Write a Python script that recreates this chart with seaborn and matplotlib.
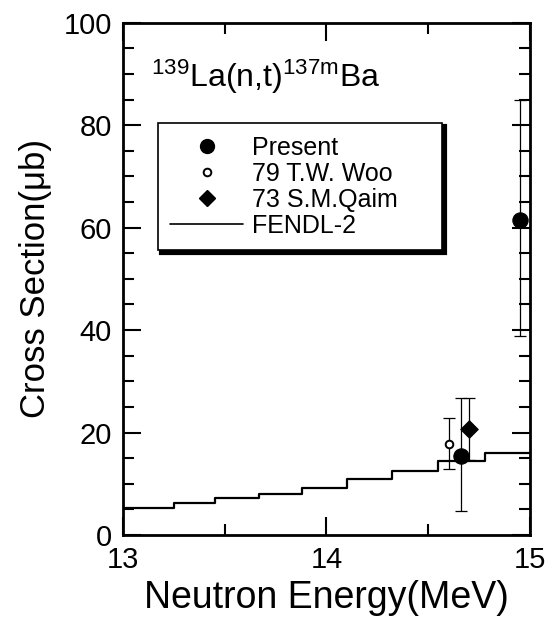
import matplotlib
matplotlib.use("Agg")
import matplotlib.pyplot as plt
import seaborn as sns
import pandas as pd
from matplotlib.lines import Line2D
from matplotlib.ticker import MultipleLocator

# ---- data ----
fendl_edges = [13.0, 13.25, 13.45, 13.67, 13.88, 14.10, 14.32, 14.55, 14.78, 15.0]
fendl_vals = [5.2, 6.2, 7.2, 8.0, 9.1, 10.9, 12.5, 14.4, 16.1]

present_e = [14.66, 14.95]
present_xs = [15.4, 61.5]
present_err_lo = [10.7, 22.7]
present_err_hi = [11.4, 23.4]

woo_e = [14.60]
woo_xs = [17.8]
woo_err = [5.0]

qaim_e = [14.70]
qaim_xs = [20.7]
qaim_err = [6.1]

legend_labels = ["Present", "79 T.W. Woo", "73 S.M.Qaim", "FENDL-2"]

sns.set_style("ticks")
plt.rcParams['font.family'] = ['Liberation Sans', 'DejaVu Sans']
plt.rcParams['mathtext.fontset'] = 'custom'
plt.rcParams['mathtext.rm'] = 'Liberation Sans'
plt.rcParams['mathtext.it'] = 'Liberation Sans'
plt.rcParams['text.color'] = 'black'
plt.rcParams['axes.labelcolor'] = 'black'

fig = plt.figure(figsize=(5.58, 6.31), dpi=100)
ax = fig.add_axes([0.2204, 0.1521, 0.7294, 0.8119])

# FENDL step line
fendl_df = pd.DataFrame({"E": fendl_edges, "xs": fendl_vals + [fendl_vals[-1]]})
sns.lineplot(data=fendl_df, x="E", y="xs", drawstyle="steps-post", color="black",
             lw=1.6, estimator=None, ax=ax, zorder=2)

# error bars
ax.errorbar(present_e, present_xs, yerr=[present_err_lo, present_err_hi], fmt="none",
            ecolor="black", elinewidth=0.9, capsize=4, capthick=0.9, zorder=3)
ax.errorbar(woo_e, woo_xs, yerr=woo_err, fmt="none",
            ecolor="black", elinewidth=0.9, capsize=4, capthick=0.9, zorder=3)
ax.errorbar(qaim_e, qaim_xs, yerr=qaim_err, fmt="none",
            ecolor="black", elinewidth=0.9, capsize=4, capthick=0.9, zorder=3)

# markers
sns.scatterplot(x=present_e, y=present_xs, marker="o", s=120, color="black",
                edgecolor="black", ax=ax, zorder=4)
sns.scatterplot(x=woo_e, y=woo_xs, marker="o", s=30, facecolor="white",
                edgecolor="black", linewidth=1.4, ax=ax, zorder=4)
sns.scatterplot(x=qaim_e, y=qaim_xs, marker="D", s=80, color="black",
                edgecolor="black", ax=ax, zorder=4)

ax.set_xlim(13, 15)
ax.set_ylim(0, 100)
ax.xaxis.set_major_locator(MultipleLocator(1))
ax.xaxis.set_minor_locator(MultipleLocator(0.5))
ax.yaxis.set_major_locator(MultipleLocator(20))
ax.yaxis.set_minor_locator(MultipleLocator(5))
ax.tick_params(which="both", direction="in", top=True, right=True, width=1.5,
               colors="black")
ax.tick_params(which="major", length=13, labelsize=21, pad=8)
ax.tick_params(which="minor", length=8)
for s in ax.spines.values():
    s.set_linewidth(2)
    s.set_color("black")

ax.set_xlabel("Neutron Energy(MeV)", fontsize=27, labelpad=4)
ax.set_ylabel("Cross Section(\u03bcb)", fontsize=25, labelpad=8)

ax.text(0.07, 0.895, r"$^{139}$La(n,t)$^{137m}$Ba", transform=ax.transAxes,
        fontsize=23, ha="left", va="center")

handles = [
    Line2D([], [], marker="o", ls="none", color="black", markersize=10),
    Line2D([], [], marker="o", ls="none", markerfacecolor="white",
           markeredgecolor="black", markersize=5.5, markeredgewidth=1.4),
    Line2D([], [], marker="D", ls="none", color="black", markersize=8),
    Line2D([], [], color="black", lw=1.2),
]
leg = ax.legend(handles, legend_labels, loc="upper left",
                bbox_to_anchor=(0.086, 0.804, 0.698, 0.0), mode="expand",
                borderaxespad=0, fancybox=False, edgecolor="black", framealpha=1,
                shadow={"color": "black", "alpha": 1, "linewidth": 3}, fontsize=18,
                handlelength=2.9, handletextpad=0.35, labelspacing=0.08,
                borderpad=0.5)
leg.get_frame().set_linewidth(1.2)

fig.savefig("out.png", dpi=100)
